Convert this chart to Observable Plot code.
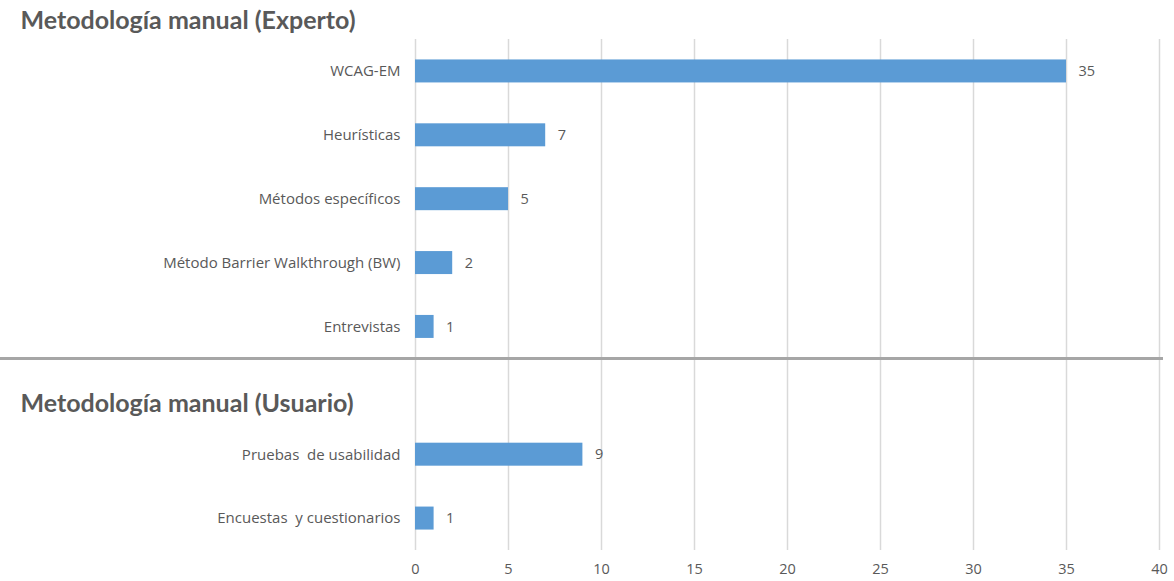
<!DOCTYPE html>
<html>
<head>
<meta charset="utf-8">
<script src="https://cdn.jsdelivr.net/npm/d3@7"></script>
<script src="https://cdn.jsdelivr.net/npm/@observablehq/plot@0.6"></script>
<style>
  html, body { margin: 0; padding: 0; background: #fff; }
</style>
</head>
<body>
<div id="chart"></div>
<script>
const expertTitle = "Metodología manual (Experto)";
const userTitle = "Metodología manual (Usuario)";
const blankRow = " ";
const categories = [
  "WCAG-EM",
  "Heurísticas",
  "Métodos específicos",
  "Método Barrier Walkthrough (BW)",
  "Entrevistas",
  blankRow,
  "Pruebas  de usabilidad",
  "Encuestas  y cuestionarios"
];
const barCategories = [
  "WCAG-EM",
  "Heurísticas",
  "Métodos específicos",
  "Método Barrier Walkthrough (BW)",
  "Entrevistas",
  "Pruebas  de usabilidad",
  "Encuestas  y cuestionarios"
];
const values = [35, 7, 5, 2, 1, 9, 1];
const xTicks = [0, 5, 10, 15, 20, 25, 30, 35, 40];

const data = barCategories.map((c, i) => ({category: c, value: values[i]}));

const textColor = "#595959";
const barColor = "#5b9bd5";
const titleFont = "Lato, 'Noto Sans', sans-serif";
const labelFont = "'Open Sans', Lato, sans-serif";

// separator between the two groups, placed from the y band scale
const separator = (index, scales, values, dimensions) => {
  const y = scales.y;
  const bw = y.bandwidth ? y.bandwidth() : 0;
  const yy = (y("Entrevistas") + y(blankRow)) / 2 + bw / 2;
  const line = document.createElementNS("http://www.w3.org/2000/svg", "line");
  line.setAttribute("x1", 0);
  line.setAttribute("x2", dimensions.width - dimensions.marginRight + 4);
  line.setAttribute("y1", yy);
  line.setAttribute("y2", yy);
  line.setAttribute("stroke", "#a6a6a6");
  line.setAttribute("stroke-width", 3);
  return line;
};

const plot = Plot.plot({
  width: 1174,
  height: 581,
  marginTop: 39,
  marginBottom: 31,
  marginLeft: 415,
  marginRight: 15,
  style: {fontFamily: labelFont, fontSize: "14px", color: textColor, background: "#fff"},
  x: {domain: [0, 40], ticks: xTicks},
  y: {domain: categories, paddingInner: 0.64, paddingOuter: 0.32, round: false},
  marks: [
    Plot.gridX(xTicks, {stroke: "#d9d9d9", strokeOpacity: 1, strokeWidth: 1.5}),
    separator,
    Plot.barX(data, {x: "value", y: "category", fill: barColor}),
    Plot.text(data, {x: "value", y: "category", text: d => String(d.value), textAnchor: "start", dx: 12, fill: textColor, fontSize: 14.5}),
    Plot.axisY({tickSize: 0, tickPadding: 15, fontSize: 15, label: null, tickFormat: d => d.trim() === "" ? "" : d, style: {letterSpacing: "0.35px"}}),
    Plot.axisX({ticks: xTicks, tickSize: 0, tickPadding: 13, fontSize: 14.5, label: null}),
    Plot.text([expertTitle], {frameAnchor: "top-left", dx: -395, dy: -19, textAnchor: "start", lineAnchor: "middle", fontSize: 25, fontWeight: "bold", fontFamily: titleFont, fill: textColor}),
    Plot.text([userTitle], {frameAnchor: "left", y: () => blankRow, dx: -395, dy: 13, textAnchor: "start", lineAnchor: "middle", fontSize: 25, fontWeight: "bold", fontFamily: titleFont, fill: textColor})
  ]
});
document.getElementById("chart").appendChild(plot);
</script>
</body>
</html>
